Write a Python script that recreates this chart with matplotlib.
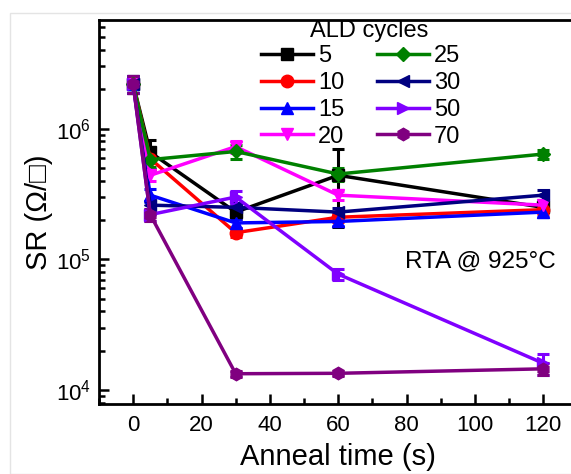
import matplotlib
matplotlib.use('Agg')
import matplotlib.pyplot as plt
from matplotlib.ticker import MultipleLocator, LogLocator, NullFormatter
from matplotlib.patches import Rectangle
from matplotlib.lines import Line2D

plt.rcParams['font.family'] = ['Liberation Sans', 'DejaVu Sans']

time = [0, 5, 30, 60, 120]
cycles = ['5', '10', '15', '20', '25', '30', '50', '70']

sr_5 = [2.2e6, 6.6e5, 2.3e5, 4.4e5, 2.5e5]
sr_10 = [2.2e6, 5.9e5, 1.6e5, 2.1e5, 2.4e5]
sr_15 = [2.2e6, 3.1e5, 1.9e5, 1.95e5, 2.3e5]
sr_20 = [2.2e6, 4.4e5, 7.3e5, 3.1e5, 2.6e5]
sr_25 = [2.2e6, 5.8e5, 6.7e5, 4.5e5, 6.4e5]
sr_30 = [2.2e6, 2.6e5, 2.5e5, 2.3e5, 3.1e5]
sr_50 = [2.2e6, 2.2e5, 3.0e5, 7.7e4, 1.6e4]
sr_70 = [2.2e6, 2.2e5, 1.33e4, 1.34e4, 1.45e4]

# relative errors (fraction of value)
err_5 = [0.15, 0.25, 0.12, 0.6, 0.08]
err_10 = [0.15, 0.2, 0.08, 0.08, 0.08]
err_15 = [0.15, 0.12, 0.08, 0.08, 0.08]
err_20 = [0.15, 0.1, 0.1, 0.08, 0.08]
err_25 = [0.15, 0.12, 0.12, 0.12, 0.08]
err_30 = [0.15, 0.08, 0.08, 0.08, 0.1]
err_50 = [0.15, 0.1, 0.12, 0.1, 0.18]
err_70 = [0.15, 0.1, 0.05, 0.05, 0.1]

series = [sr_5, sr_10, sr_15, sr_20, sr_25, sr_30, sr_50, sr_70]
errors = [err_5, err_10, err_15, err_20, err_25, err_30, err_50, err_70]
colors = ['black', 'red', 'blue', 'magenta', 'green', 'navy', '#8000ff', 'purple']
markers = ['s', 'o', '^', 'v', 'D', '<', '>', 'h']

fig = plt.figure(figsize=(5.71, 4.74), dpi=100)
ax = fig.add_axes([0.1734, 0.1477, 0.8377, 0.810])

handles = []
for vals, errs, c, m, lab in zip(series, errors, colors, markers, cycles):
    ms = 7.5 if m == 'D' else 9
    yerr = [v * e for v, e in zip(vals, errs)]
    ax.errorbar(time, vals, yerr=yerr, color=c, marker=m, markersize=ms,
                lw=2.5, elinewidth=2.2, capsize=4.5, capthick=2.2)
    handles.append(Line2D([], [], color=c, marker=m, markersize=ms, lw=2.5, label=lab))

ax.set_yscale('log')
ax.set_xlim(-10, 130)
ax.set_ylim(7.8e3, 6.8e6)

ax.xaxis.set_major_locator(MultipleLocator(20))
ax.xaxis.set_minor_locator(MultipleLocator(10))
ax.yaxis.set_major_locator(LogLocator(base=10, numticks=10))
ax.yaxis.set_minor_locator(LogLocator(base=10, subs=range(2, 10), numticks=20))
ax.yaxis.set_minor_formatter(NullFormatter())

ax.tick_params(which='both', direction='in', top=False, right=False, labelsize=16, width=1.8)
ax.tick_params(which='major', length=7, pad=6)
ax.tick_params(axis='x', which='major', pad=8)
ax.tick_params(which='minor', length=4)
for s in ax.spines.values():
    s.set_linewidth(2)

ax.set_xlabel('Anneal time (s)', fontsize=21, labelpad=5)
ax.set_ylabel('SR (\u03a9/\u25a1)', fontsize=21, labelpad=2)

ax.text(0.64, 0.355, 'RTA @ 925\u00b0C', transform=ax.transAxes, fontsize=17.5)

# legend title placed separately so it sits closer to the entries
ax.text(0.5645, 0.972, 'ALD cycles', transform=ax.transAxes, fontsize=17,
        ha='center', va='center')
leg = ax.legend(handles=handles, ncol=2, loc='upper left', bbox_to_anchor=(0.31, 0.971),
                fontsize=17, frameon=False,
                handlelength=2.2, handletextpad=0.2, columnspacing=1.4, labelspacing=0.2,
                borderpad=0.1)

fig.patches.append(Rectangle((0.018, 0.0), 0.99, 0.972, transform=fig.transFigure,
                             fill=False, edgecolor='#e4e4e4', lw=1))

fig.savefig('out.png', dpi=100)
